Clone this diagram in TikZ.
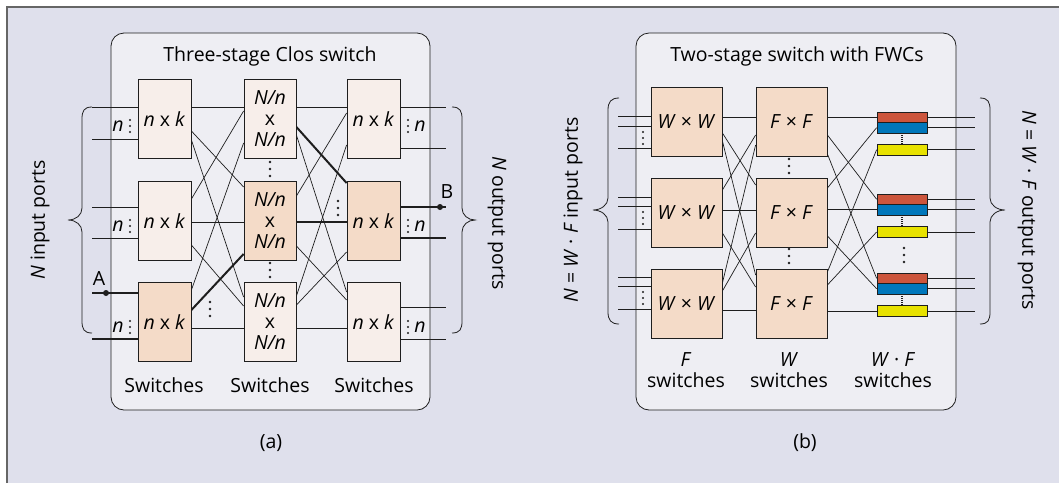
\documentclass[tikz,border=0pt]{standalone}
\usepackage{fontspec}
\setmainfont{Open Sans}
\definecolor{bg}{RGB}{223,224,236}
\definecolor{panelc}{RGB}{238,238,243}
\definecolor{lp}{RGB}{247,238,234}
\definecolor{dp}{RGB}{244,219,200}
\definecolor{fred}{RGB}{204,85,60}
\definecolor{fblue}{RGB}{0,119,187}
\definecolor{fyel}{RGB}{232,226,0}
\definecolor{ink}{RGB}{30,30,30}
\newcommand{\fsz}{\fontsize{19.5pt}{21pt}\selectfont}
\tikzset{
  panelbox/.style={draw=ink, fill=panelc, line width=0.8pt, rounded corners=13pt},
  abox/.style={draw=ink, fill=lp, line width=0.8pt, minimum height=79pt, inner sep=0pt, align=center, font=\fsz},
  adark/.style={abox, fill=dp},
  bbox/.style={draw=ink, fill=dp, line width=0.8pt, minimum width=71pt, minimum height=69pt, inner sep=0pt, font=\fsz},
  fwc/.style={draw=ink, line width=0.8pt, minimum width=50pt, minimum height=10.4pt, inner sep=0pt},
  wire/.style={draw=ink, line width=0.7pt},
  hwire/.style={draw=ink, line width=2pt},
  brc/.style={draw=ink, line width=0.8pt},
  txt/.style={font=\fsz, inner sep=0pt},
  vd/.pic={\fill[ink] (0,-7) circle (1.3pt) (0,0) circle (1.3pt) (0,7) circle (1.3pt);},
  svd/.pic={\fill[ink] (0,-6) circle (1.05pt) (0,0) circle (1.05pt) (0,6) circle (1.05pt);}
}
\begin{document}
\begin{tikzpicture}[x=1pt,y=-1pt]
\useasboundingbox (0,0) rectangle (1059,483);
\fill[white] (0,0) rectangle (1059,483);
\fill[bg] (7,7) rectangle (1059,483);
\draw[gray!80!black, line width=1.5pt] (7,483) -- (7,7) -- (1059,7);

%% ================= panel (a) =================
\draw[panelbox] (111,33) rectangle (430,410);
\node[txt] (ta) at (270,56) {Three-stage Clos switch};

% box frames (text added on top later)
\node[abox, minimum width=53pt] (a11) at (164.5,119) {};
\node[abox, minimum width=53pt] (a12) at (164.5,221) {};
\node[adark, minimum width=53pt] (a13) at (164.5,322) {};
\node[abox, minimum width=52pt] (a21) at (270,119) {};
\node[adark, minimum width=52pt] (a22) at (270,221) {};
\node[abox, minimum width=52pt] (a23) at (270,322) {};
\node[abox, minimum width=53pt] (a31) at (373.5,119) {};
\node[adark, minimum width=53pt] (a32) at (373.5,221) {};
\node[abox, minimum width=53pt] (a33) at (373.5,322) {};

% stage1 -> stage2
\draw[wire] (a11.east |- 0,107) -- (a21.west |- 0,107);
\draw[wire] (a11.east |- 0,131) -- (a22.west |- 0,187);
\draw[wire] (a11.east |- 0,140) -- (a23.west |- 0,297);
\draw[wire] (a12.east |- 0,199) -- (a21.west |- 0,111);
\draw[wire] (a12.east |- 0,222) -- (a22.west |- 0,222);
\draw[wire] (a12.east |- 0,245) -- (a23.west |- 0,306);
\draw[wire] (a13.east |- 0,290) -- (a21.west |- 0,143);
\draw[hwire] (a13.east |- 0,310) -- (a22.west |- 0,254);
\draw[wire] (a13.east |- 0,328) -- (a23.west |- 0,328);
% stage2 -> stage3
\draw[wire] (a21.east |- 0,107) -- (a31.west |- 0,107);
\draw[hwire] (a21.east |- 0,127) -- (a32.west |- 0,183);
\draw[wire] (a21.east |- 0,135) -- (a33.west |- 0,292);
\draw[wire] (a22.east |- 0,196) -- (a31.west |- 0,113);
\draw[hwire] (a22.east |- 0,222) -- (a32.west |- 0,222);
\draw[wire] (a22.east |- 0,246) -- (a33.west |- 0,300);
\draw[wire] (a23.east |- 0,296) -- (a31.west |- 0,145);
\draw[wire] (a23.east |- 0,305) -- (a32.west |- 0,252);
\draw[wire] (a23.east |- 0,328) -- (a33.west |- 0,328);

% boxes on top, with their texts
\node[abox, minimum width=53pt] at (a11) {\textit{n} x \textit{k}};
\node[abox, minimum width=53pt] at (a12) {\textit{n} x \textit{k}};
\node[adark, minimum width=53pt] at (a13) {\textit{n} x \textit{k}};
\node[abox, minimum width=52pt] at (a21) {\textit{N/n}\\x\\\textit{N/n}};
\node[adark, minimum width=52pt] at (a22) {\textit{N/n}\\x\\\textit{N/n}};
\node[abox, minimum width=52pt] at (a23) {\textit{N/n}\\x\\\textit{N/n}};
\node[abox, minimum width=53pt] at (a31) {\textit{n} x \textit{k}};
\node[adark, minimum width=53pt] at (a32) {\textit{n} x \textit{k}};
\node[abox, minimum width=53pt] at (a33) {\textit{n} x \textit{k}};

% input wires
\foreach \y/\nm in {107/i1,139/i2,207/i3,238/i4,293/i5,339/i6} {
  \coordinate (\nm) at (92,\y);
}
\draw[wire] (i1) -- (a11.west |- i1);
\draw[wire] (i2) -- (a11.west |- i2);
\draw[wire] (i3) -- (a12.west |- i3);
\draw[wire] (i4) -- (a12.west |- i4);
\draw[hwire] (i5) -- (a13.west |- i5);
\draw[hwire] (i6) -- (a13.west |- i6);
\coordinate (A) at (106,293);
\fill[ink] (A) circle (3pt);
\node[txt] (Alab) at (99,279) {A};

% output wires
\foreach \y/\nm in {107/o1,148/o2,207/o3,238/o4,307/o5,339/o6} {
  \coordinate (\nm) at (446,\y);
}
\draw[wire] (a31.east |- o1) -- (o1);
\draw[wire] (a31.east |- o2) -- (o2);
\draw[hwire] (a32.east |- o3) -- (o3);
\draw[hwire] (a32.east |- o4) -- (o4);
\draw[wire] (a33.east |- o5) -- (o5);
\draw[wire] (a33.east |- o6) -- (o6);
\coordinate (B) at (440,207);
\fill[ink] (B) circle (3pt);
\node[txt] (Blab) at (447,192) {B};

% n: labels
\foreach \y [count=\k] in {126,226,327} {
  \node[txt] (nl\k) at (118,\y) {\textit{n}};
  \pic at (130,\y) {svd};
  \pic at (408,\y) {svd};
  \node[txt] (nr\k) at (420,\y) {\textit{n}};
}
% vdots
\pic at (270,169) {vd};
\pic at (270,270) {vd};
\pic at (210,309) {vd};
\pic at (338,208) {vd};

% braces (a)
\draw[brc] (92,107) .. controls (84,107) and (82,111) .. (82,119) -- (82,208)
  .. controls (82,215) and (76,220) .. (68,220)
  .. controls (76,220) and (82,225) .. (82,232) -- (82,321)
  .. controls (82,329) and (84,333) .. (92,333);
\draw[brc] (452,107) .. controls (460,107) and (462,111) .. (462,119) -- (462,208)
  .. controls (462,215) and (468,220) .. (475,220)
  .. controls (468,220) and (462,225) .. (462,232) -- (462,321)
  .. controls (462,329) and (460,333) .. (452,333);
\node[txt, rotate=90] (lin) at (40,220) {\textit{N} input ports};
\node[txt, rotate=-90] (lout) at (497,223) {\textit{N} output ports};

\node[txt] (sw1) at (164,385) {Switches};
\node[txt] (sw2) at (270,385) {Switches};
\node[txt] (sw3) at (374,385) {Switches};
\node[txt] (capa) at (271,443) {(a)};

%% ================= panel (b) =================
\draw[panelbox] (636,33) rectangle (956,410);
\node[txt] (tb) at (797,56) {Two-stage switch with FWCs};

\node[bbox] (b11) at (686.5,121.5) {};
\node[bbox] (b12) at (686.5,212.5) {};
\node[bbox] (b13) at (686.5,303.5) {};
\node[bbox] (b21) at (791.5,121.5) {};
\node[bbox] (b22) at (791.5,212.5) {};
\node[bbox] (b23) at (791.5,303.5) {};

\node[fwc, fill=fred]  (r1) at (902,117.5) {};
\node[fwc, fill=fblue] (u1) at (902,127.7) {};
\node[fwc, fill=fyel]  (y1) at (902,149.7) {};
\node[fwc, fill=fred]  (r2) at (902,199.2) {};
\node[fwc, fill=fblue] (u2) at (902,209.7) {};
\node[fwc, fill=fyel]  (y2) at (902,232) {};
\node[fwc, fill=fred]  (r3) at (902,278.3) {};
\node[fwc, fill=fblue] (u3) at (902,288.7) {};
\node[fwc, fill=fyel]  (y3) at (902,310.9) {};
\foreach \g in {1,2,3} {
  \draw[ink, line width=2pt, dash pattern=on 1pt off 1pt] (u\g.south) -- (y\g.north);
}

% stage1 -> stage2 (b)
\draw[wire] (b11.east |- 0,117.5) -- (b21.west |- 0,117.5);
\draw[wire] (b11.east |- 0,133) -- (b22.west |- 0,185);
\draw[wire] (b11.east |- 0,141) -- (b23.west |- 0,275);
\draw[wire] (b12.east |- 0,190) -- (b21.west |- 0,135);
\draw[wire] (b12.east |- 0,210) -- (b22.west |- 0,210);
\draw[wire] (b12.east |- 0,233) -- (b23.west |- 0,287);
\draw[wire] (b13.east |- 0,283) -- (b21.west |- 0,145);
\draw[wire] (b13.east |- 0,291) -- (b22.west |- 0,233);
\draw[wire] (b13.east |- 0,310) -- (b23.west |- 0,310);
% stage2 -> FWC
\draw[wire] (b21.east |- r1) -- (r1.west);
\draw[wire] (b21.east |- 0,135) -- (r2.west);
\draw[wire] (b21.east |- 0,154) -- (r3.west);
\draw[wire] (b22.east |- 0,188) -- (u1.west);
\draw[wire] (b22.east |- u2) -- (u2.west);
\draw[wire] (b22.east |- 0,236) -- (u3.west);
\draw[wire] (b23.east |- 0,272) -- (y1.west);
\draw[wire] (b23.east |- 0,285) -- (y2.west);
\draw[wire] (b23.east |- y3) -- (y3.west);

% boxes on top with text
\foreach \n in {b11,b12,b13} {\node[bbox] at (\n) {\textit{W} × \textit{W}};}
\foreach \n in {b21,b22,b23} {\node[bbox] at (\n) {\textit{F} × \textit{F}};}

% inputs (b)
\foreach \y/\nm in {116.7/j1,126.7/j2,148.3/j3} {
  \coordinate (\nm) at (618,\y); \draw[wire] (\nm) -- (b11.west |- \nm);}
\foreach \y/\nm in {197.7/j4,206.7/j5,229.3/j6} {
  \coordinate (\nm) at (618,\y); \draw[wire] (\nm) -- (b12.west |- \nm);}
\foreach \y/\nm in {277.3/j7,286.7/j8,309.3/j9} {
  \coordinate (\nm) at (618,\y); \draw[wire] (\nm) -- (b13.west |- \nm);}
\pic at (643,138) {svd};
\pic at (643,218) {svd};
\pic at (643,298) {svd};

% outputs (b)
\coordinate (xr) at (975,0);
\foreach \n in {r1,u1,y1,r2,u2,y2,r3,u3,y3} {
  \draw[wire] (\n.east) -- (xr |- \n.east);
}

\pic at (789,166) {vd};
\pic at (789,256) {vd};
\pic at (904,255) {vd};

% braces (b)
\draw[brc] (619,98) .. controls (611,98) and (608,102) .. (608,110) -- (608,198)
  .. controls (608,205) and (601,210) .. (593,210)
  .. controls (601,210) and (608,215) .. (608,222) -- (608,312)
  .. controls (608,320) and (611,324) .. (619,324);
\draw[brc] (980,98) .. controls (988,98) and (990,102) .. (990,110) -- (990,198)
  .. controls (990,205) and (997,210) .. (1005,210)
  .. controls (997,210) and (990,215) .. (990,222) -- (990,312)
  .. controls (990,320) and (988,324) .. (980,324);
\node[txt, rotate=90] (lbin) at (573,210) {\textit{N} = \textit{W} · \textit{F} input ports};
\node[txt, rotate=-90] (lbout) at (1027,210) {\textit{N} = \textit{W} · \textit{F} output ports};

\node[txt, align=center] (bl1) at (686,370) {\textit{F}\\switches};
\node[txt, align=center] (bl2) at (789,370) {\textit{W}\\switches};
\node[txt, align=center] (bl3) at (893,370) {\textit{W} · \textit{F}\\switches};
\node[txt] (capb) at (805,443) {(b)};
\end{tikzpicture}
\end{document}
